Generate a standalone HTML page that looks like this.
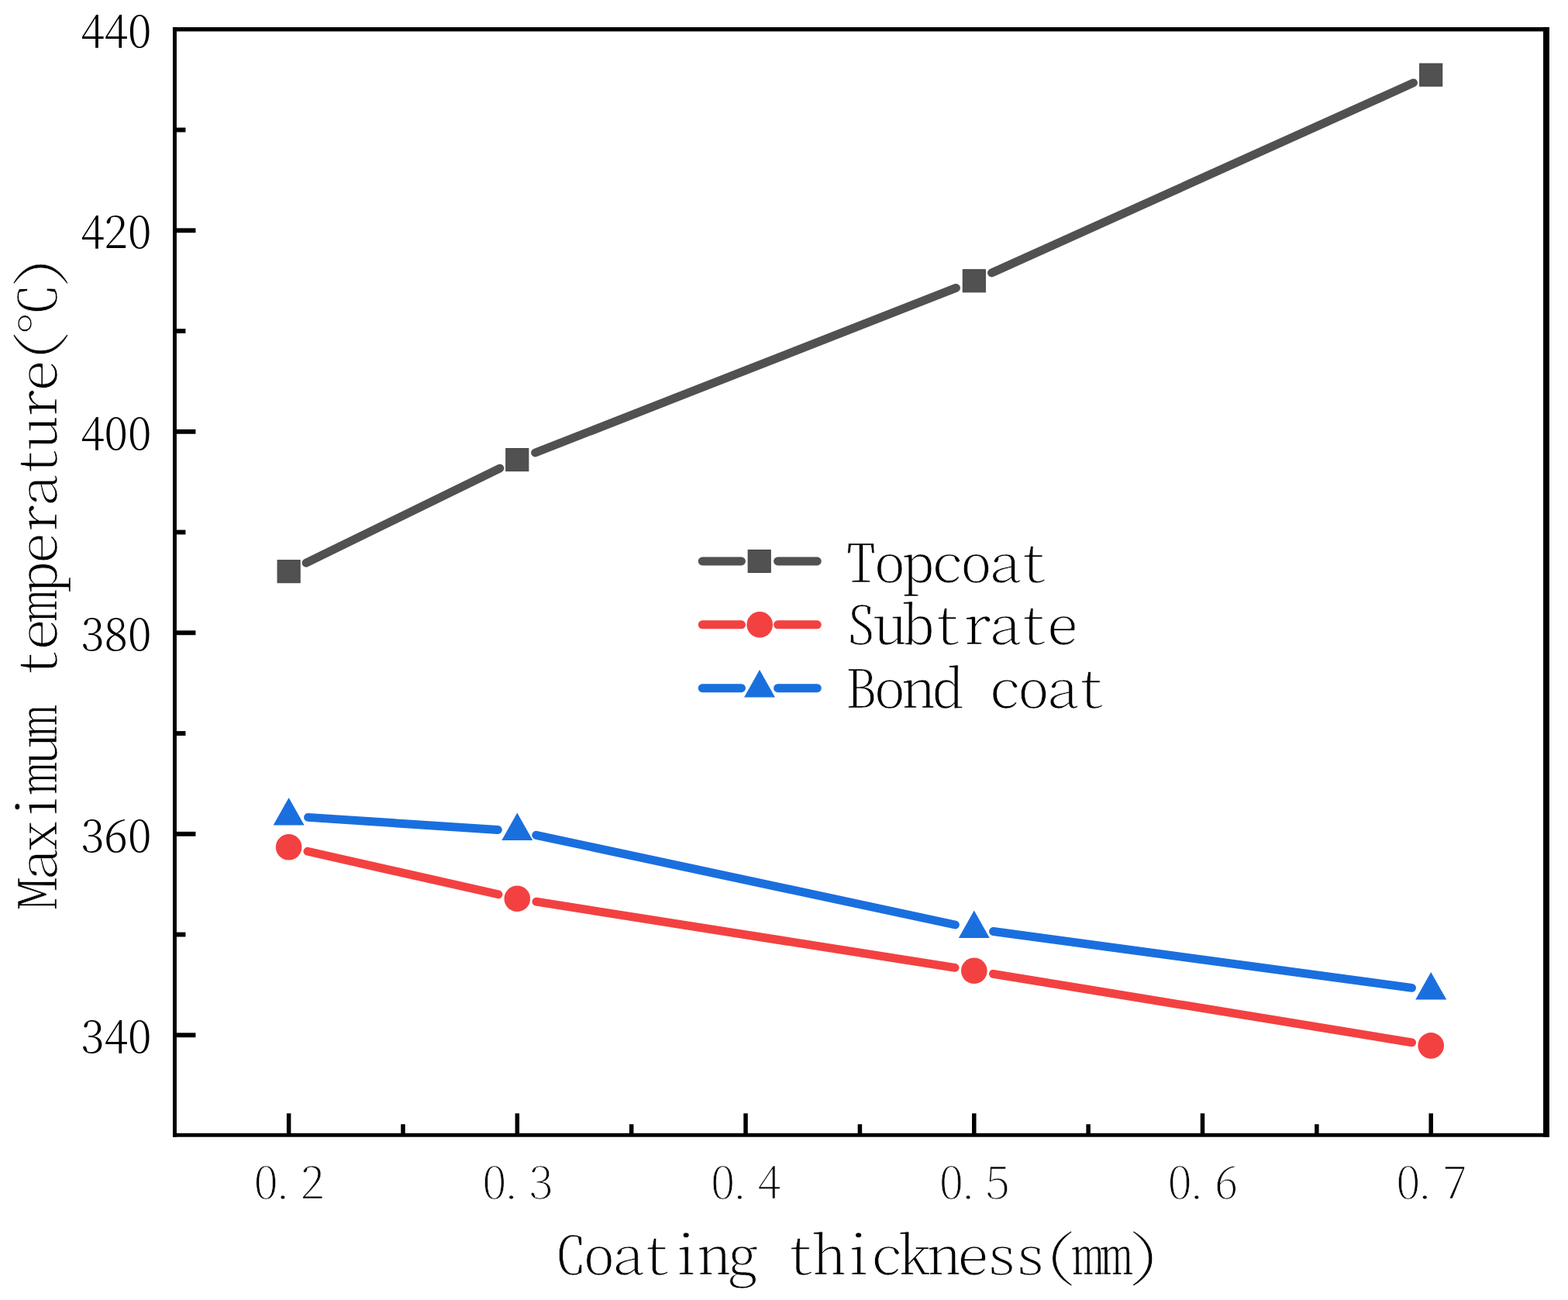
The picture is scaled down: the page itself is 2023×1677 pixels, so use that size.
<!DOCTYPE html>
<html><head><meta charset="utf-8"><title>Maximum temperature vs coating thickness</title>
<style>html,body{margin:0;padding:0;background:#fff;overflow:hidden}svg{display:block}</style></head>
<body>
<svg width="2023" height="1677" viewBox="0 0 2023 1677">
<g fill="#000"><rect x="222.95" y="35.1" width="4.95" height="1431.60"/><rect x="222.95" y="35.1" width="1776.00" height="5.4"/><rect x="222.95" y="1461.8" width="1776.00" height="4.9"/><rect x="1991.05" y="35.1" width="7.9" height="1431.60"/></g>
<g stroke="#000" stroke-width="5.9"><line x1="225.4" y1="1335.30" x2="252.4" y2="1335.30"/><line x1="225.4" y1="1205.55" x2="239.4" y2="1205.55"/><line x1="225.4" y1="1075.80" x2="252.4" y2="1075.80"/><line x1="225.4" y1="946.05" x2="239.4" y2="946.05"/><line x1="225.4" y1="816.30" x2="252.4" y2="816.30"/><line x1="225.4" y1="686.55" x2="239.4" y2="686.55"/><line x1="225.4" y1="556.80" x2="252.4" y2="556.80"/><line x1="225.4" y1="427.05" x2="239.4" y2="427.05"/><line x1="225.4" y1="297.30" x2="252.4" y2="297.30"/><line x1="225.4" y1="167.55" x2="239.4" y2="167.55"/></g>
<g stroke="#000" stroke-width="5.5"><line x1="372.60" y1="1464.25" x2="372.60" y2="1436.25"/><line x1="519.96" y1="1464.25" x2="519.96" y2="1450.25"/><line x1="667.32" y1="1464.25" x2="667.32" y2="1436.25"/><line x1="814.68" y1="1464.25" x2="814.68" y2="1450.25"/><line x1="962.04" y1="1464.25" x2="962.04" y2="1436.25"/><line x1="1109.40" y1="1464.25" x2="1109.40" y2="1450.25"/><line x1="1256.76" y1="1464.25" x2="1256.76" y2="1436.25"/><line x1="1404.12" y1="1464.25" x2="1404.12" y2="1450.25"/><line x1="1551.48" y1="1464.25" x2="1551.48" y2="1436.25"/><line x1="1698.84" y1="1464.25" x2="1698.84" y2="1450.25"/><line x1="1846.20" y1="1464.25" x2="1846.20" y2="1436.25"/></g>
<g font-family="Noto Serif CJK SC, Liberation Serif, serif" font-weight="300" font-size="58.8" text-anchor="end"><text x="0" y="0" transform="translate(195.2,1358.4) scale(0.953,1)">340</text><text x="0" y="0" transform="translate(195.2,1098.9) scale(0.953,1)">360</text><text x="0" y="0" transform="translate(195.2,839.4) scale(0.953,1)">380</text><text x="0" y="0" transform="translate(195.2,579.9) scale(0.953,1)">400</text><text x="0" y="0" transform="translate(195.2,320.4) scale(0.953,1)">420</text><text x="0" y="0" transform="translate(195.2,60.9) scale(0.953,1)">440</text></g>
<text transform="translate(327.6,1545.5) scale(1.04,0.91)" font-size="60.0" font-weight="200" font-family="Noto Serif CJK SC, Liberation Serif, serif" style="font-feature-settings:'hwid' 1;letter-spacing:-1.15px" xml:space="preserve" stroke="#fff" stroke-width="0.6">0<tspan dx="-8.0">.</tspan><tspan dx="8.0">2</tspan></text>
<text transform="translate(622.3,1545.5) scale(1.04,0.91)" font-size="60.0" font-weight="200" font-family="Noto Serif CJK SC, Liberation Serif, serif" style="font-feature-settings:'hwid' 1;letter-spacing:-1.15px" xml:space="preserve" stroke="#fff" stroke-width="0.6">0<tspan dx="-8.0">.</tspan><tspan dx="8.0">3</tspan></text>
<text transform="translate(917.0,1545.5) scale(1.04,0.91)" font-size="60.0" font-weight="200" font-family="Noto Serif CJK SC, Liberation Serif, serif" style="font-feature-settings:'hwid' 1;letter-spacing:-1.15px" xml:space="preserve" stroke="#fff" stroke-width="0.6">0<tspan dx="-8.0">.</tspan><tspan dx="8.0">4</tspan></text>
<text transform="translate(1211.8,1545.5) scale(1.04,0.91)" font-size="60.0" font-weight="200" font-family="Noto Serif CJK SC, Liberation Serif, serif" style="font-feature-settings:'hwid' 1;letter-spacing:-1.15px" xml:space="preserve" stroke="#fff" stroke-width="0.6">0<tspan dx="-8.0">.</tspan><tspan dx="8.0">5</tspan></text>
<text transform="translate(1506.5,1545.5) scale(1.04,0.91)" font-size="60.0" font-weight="200" font-family="Noto Serif CJK SC, Liberation Serif, serif" style="font-feature-settings:'hwid' 1;letter-spacing:-1.15px" xml:space="preserve" stroke="#fff" stroke-width="0.6">0<tspan dx="-8.0">.</tspan><tspan dx="8.0">6</tspan></text>
<text transform="translate(1801.2,1545.5) scale(1.04,0.91)" font-size="60.0" font-weight="200" font-family="Noto Serif CJK SC, Liberation Serif, serif" style="font-feature-settings:'hwid' 1;letter-spacing:-1.15px" xml:space="preserve" stroke="#fff" stroke-width="0.6">0<tspan dx="-8.0">.</tspan><tspan dx="8.0">7</tspan></text>
<g stroke="#515151" stroke-width="10.9" stroke-linecap="round"><line x1="395.0" y1="726.2" x2="644.9" y2="604.1"/><line x1="690.6" y1="584.0" x2="1233.5" y2="371.4"/><line x1="1279.5" y1="352.0" x2="1823.5" y2="106.9"/></g>
<g stroke="#F34141" stroke-width="10.9" stroke-linecap="round"><line x1="396.9" y1="1098.3" x2="643.0" y2="1153.8"/><line x1="692.0" y1="1163.2" x2="1232.1" y2="1248.4"/><line x1="1281.4" y1="1256.3" x2="1821.6" y2="1344.9"/></g>
<g stroke="#1A6FDF" stroke-width="10.9" stroke-linecap="round"><line x1="397.5" y1="1054.4" x2="642.4" y2="1070.5"/><line x1="691.7" y1="1077.3" x2="1232.4" y2="1193.0"/><line x1="1281.5" y1="1201.5" x2="1821.5" y2="1274.4"/></g>
<rect x="358.1" y="722.7" width="29.0" height="29.0" fill="#515151" stroke="#444" stroke-width="1.1"/>
<rect x="652.8" y="578.6" width="29.0" height="29.0" fill="#515151" stroke="#444" stroke-width="1.1"/>
<rect x="1242.3" y="347.8" width="29.0" height="29.0" fill="#515151" stroke="#444" stroke-width="1.1"/>
<rect x="1831.7" y="82.1" width="29.0" height="29.0" fill="#515151" stroke="#444" stroke-width="1.1"/>
<circle cx="372.6" cy="1092.8" r="16.8" fill="#F34141"/>
<circle cx="667.3" cy="1159.3" r="16.8" fill="#F34141"/>
<circle cx="1256.8" cy="1252.3" r="16.8" fill="#F34141"/>
<circle cx="1846.2" cy="1348.9" r="16.8" fill="#F34141"/>
<polygon points="372.6,1029.1 352.6,1064.6 392.6,1064.6" fill="#1A6FDF"/>
<polygon points="667.3,1048.4 647.3,1083.9 687.3,1083.9" fill="#1A6FDF"/>
<polygon points="1256.8,1174.5 1236.8,1210.0 1276.8,1210.0" fill="#1A6FDF"/>
<polygon points="1846.2,1254.0 1826.2,1289.5 1866.2,1289.5" fill="#1A6FDF"/>
<g stroke="#515151" stroke-width="10.9" stroke-linecap="round"><line x1="906.2" y1="724.0" x2="956.5" y2="724.0"/><line x1="1003.5" y1="724.0" x2="1054.3" y2="724.0"/></g>
<rect x="965.2" y="709.5" width="29.0" height="29.0" fill="#515151" stroke="#444" stroke-width="1.1"/>
<g stroke="#F34141" stroke-width="10.9" stroke-linecap="round"><line x1="906.2" y1="805.8" x2="956.5" y2="805.8"/><line x1="1003.5" y1="805.8" x2="1054.3" y2="805.8"/></g>
<circle cx="980.2" cy="805.8" r="16.8" fill="#F34141"/>
<g stroke="#1A6FDF" stroke-width="10.9" stroke-linecap="round"><line x1="906.2" y1="887.7" x2="956.5" y2="887.7"/><line x1="1003.5" y1="887.7" x2="1054.3" y2="887.7"/></g>
<polygon points="980.0,864.0 960.0,899.5 1000.0,899.5" fill="#1A6FDF"/>
<text transform="translate(1090.5,750.6) scale(1.1,0.91)" font-size="74.2" font-weight="200" font-family="Noto Serif CJK SC, Liberation Serif, serif" style="font-feature-settings:'hwid' 1;letter-spacing:-3.37px" xml:space="preserve" stroke="#fff" stroke-width="0.6">Topcoat</text>
<text transform="translate(1090.5,831.0) scale(1.1,0.91)" font-size="74.2" font-weight="200" font-family="Noto Serif CJK SC, Liberation Serif, serif" style="font-feature-settings:'hwid' 1;letter-spacing:-3.37px" xml:space="preserve" stroke="#fff" stroke-width="0.6">Subtrate</text>
<text transform="translate(1090.5,912.5) scale(1.1,0.91)" font-size="74.2" font-weight="200" font-family="Noto Serif CJK SC, Liberation Serif, serif" style="font-feature-settings:'hwid' 1;letter-spacing:-3.37px" xml:space="preserve" stroke="#fff" stroke-width="0.6">Bond coat</text>
<text transform="translate(715.5,1644.1) scale(1.1,0.91)" font-size="74.2" font-weight="200" font-family="Noto Serif CJK SC, Liberation Serif, serif" style="font-feature-settings:'hwid' 1;letter-spacing:-3.37px" xml:space="preserve" stroke="#fff" stroke-width="0.6">Coating thickness(mm)</text>
<g transform="translate(72.5,1173) rotate(-90)"><text transform="translate(0.0,0.0) scale(1.1,0.91)" font-size="74.2" font-weight="200" font-family="Noto Serif CJK SC, Liberation Serif, serif" style="font-feature-settings:'hwid' 1;letter-spacing:-3.37px" xml:space="preserve" stroke="#fff" stroke-width="0.6">Maximum temperature(°C)</text></g>
</svg>
</body></html>
